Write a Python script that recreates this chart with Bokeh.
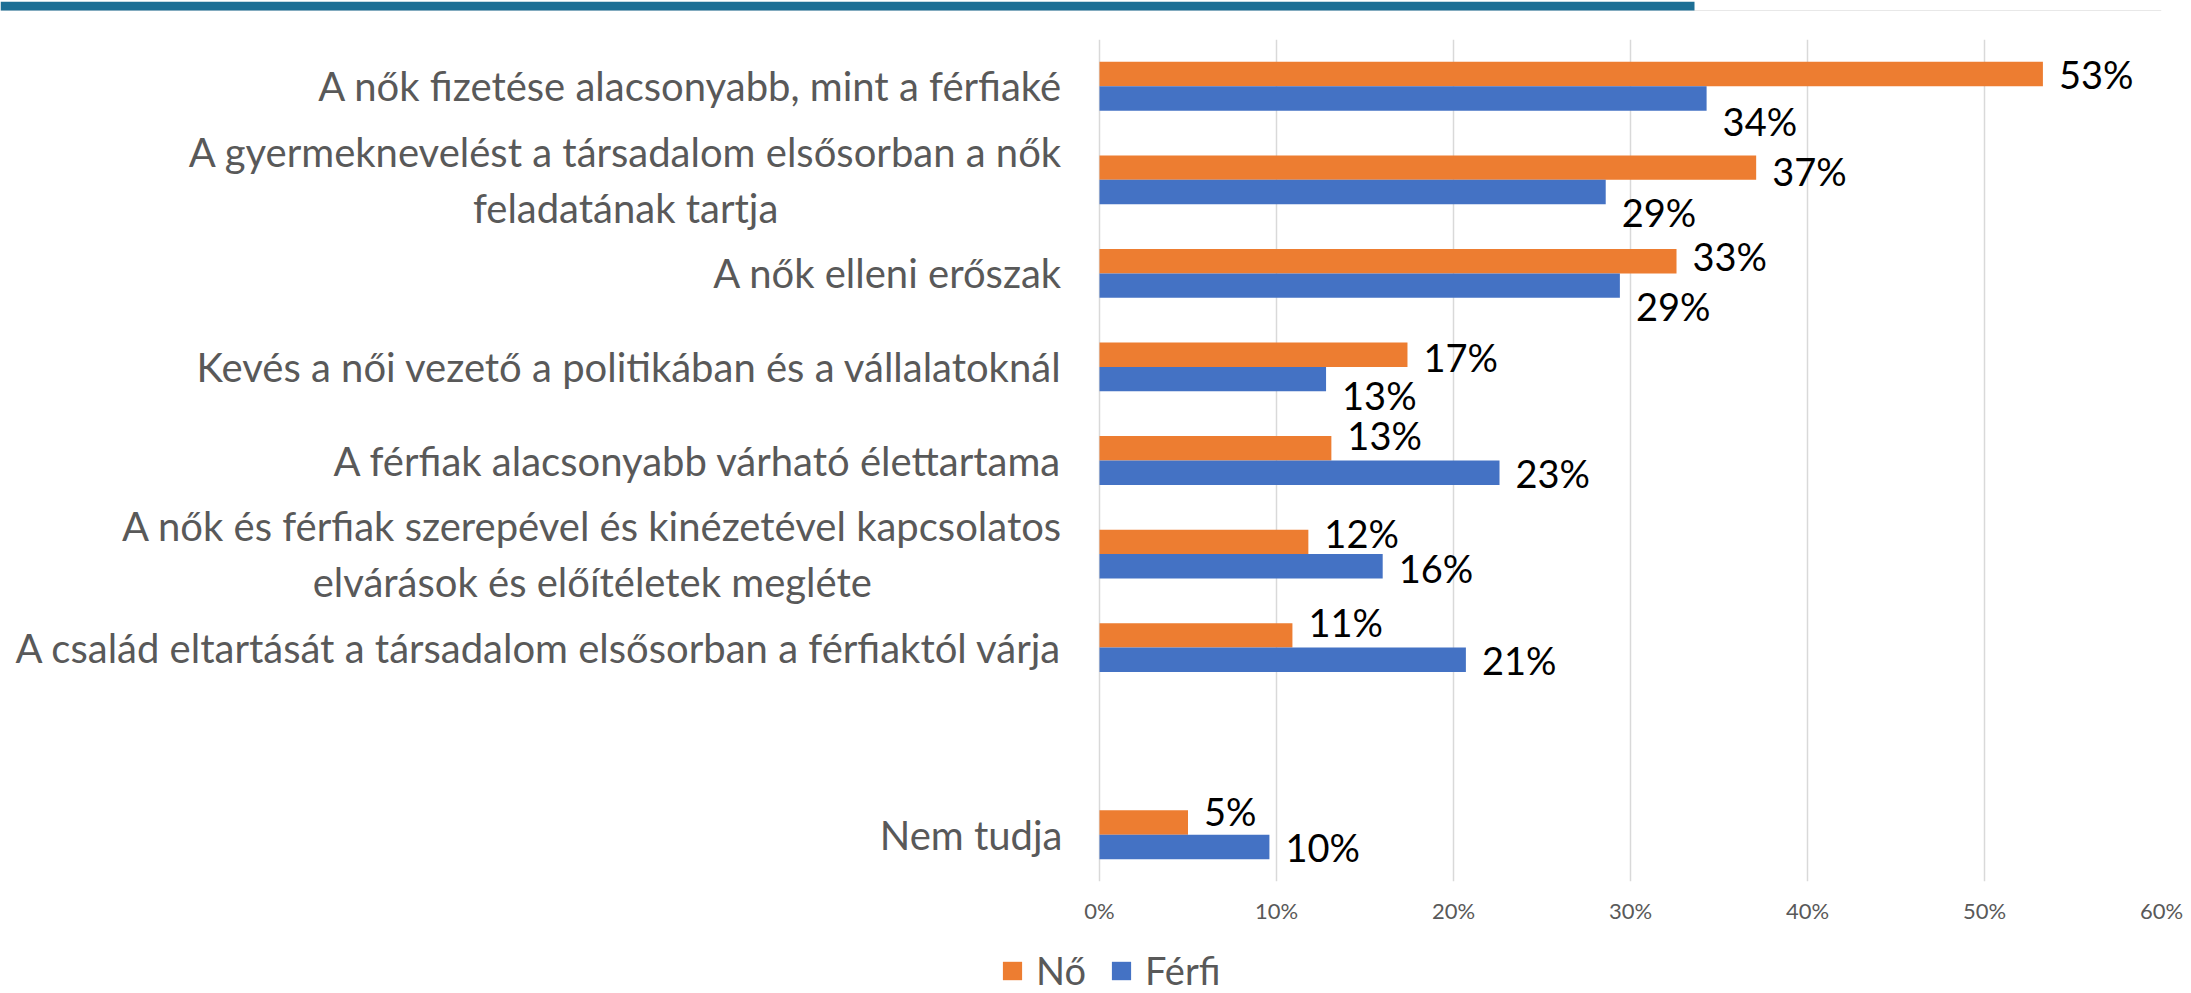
from bokeh.plotting import figure
from bokeh.layouts import column
from bokeh.models import (Range1d, FactorRange, FixedTicker, PrintfTickFormatter,
                          ColumnDataSource, Legend, LegendItem, BoxAnnotation)
from bokeh.transform import dodge
from bokeh.core.properties import value
from bokeh.embed import file_html
from bokeh.resources import INLINE

# ---------------- data ----------------
categories = [
    "A nők fizetése alacsonyabb, mint a férfiaké",
    "A gyermeknevelést a társadalom elsősorban a nők\nfeladatának tartja",
    "A nők elleni erőszak",
    "Kevés a női vezető a politikában és a vállalatoknál",
    "A férfiak alacsonyabb várható élettartama",
    "A nők és férfiak szerepével és kinézetével kapcsolatos\nelvárások és előítéletek megléte",
    "A család eltartását a társadalom elsősorban a férfiaktól várja",
    "Nem tudja",
]
spacer = " "
series = ["Nő", "Férfi"]
no_values = [53.3, 37.1, 32.6, 17.4, 13.1, 11.8, 10.9, 5.0]
ferfi_values = [34.3, 28.6, 29.4, 12.8, 22.6, 16.0, 20.7, 9.6]
tick_values = [0, 10, 20, 30, 40, 50, 60]

# ---------------- style ----------------
ORANGE = "#ED7D31"
BLUE = "#4472C4"
GRAY_TXT = "#595959"
GRID = "#D9D9D9"
BAND = "#1D6F95"
BAND_LINE = "#D2D2D2"
FONT = "Lato"
# manual label nudges (screen px, + = down), as in the original
no_label_shift = [0, 3, -5, 2, -13, -9, -13, -12]
ferfi_label_shift = [23, 20, 20, 16, 0, 2, 0, 0]

W = 2191
FRAME_RIGHT = 2161
H_BAND, H_MAIN, H_LEG = 11, 919, 63

# ---------------- decorative header band ----------------
band = figure(width=W, height=H_BAND, x_range=Range1d(0, FRAME_RIGHT), y_range=Range1d(0, H_BAND),
              output_backend="svg", toolbar_location=None,
              x_axis_location=None, y_axis_location=None,
              min_border_left=0, min_border_top=0, min_border_bottom=0,
              min_border_right=W - FRAME_RIGHT)
band.grid.visible = False
band.outline_line_color = None
band.background_fill_color = "white"
band.border_fill_color = "white"
band.add_layout(BoxAnnotation(left=0, right=FRAME_RIGHT, bottom=0, top=2,
                              fill_color=BAND_LINE, fill_alpha=1, line_color=None))
band.add_layout(BoxAnnotation(left=0, right=1694, bottom=2, top=H_BAND,
                              fill_color=BAND, fill_alpha=1, line_color=None))

# ---------------- main chart ----------------
order = categories[:7] + [spacer] + categories[7:]
factors = order[::-1]

p = figure(width=W, height=H_MAIN,
           x_range=Range1d(-62.09, 60),
           y_range=FactorRange(factors=factors, range_padding=0),
           output_backend="svg", toolbar_location=None,
           y_axis_location=None,
           min_border_left=0, min_border_right=W - FRAME_RIGHT,
           min_border_top=28, min_border_bottom=49)
p.outline_line_color = None

src = ColumnDataSource(dict(
    cat=categories,
    no=no_values,
    ferfi=ferfi_values,
    no_lbl=[f"{int(v + 0.5)}%" for v in no_values],
    ferfi_lbl=[f"{int(v + 0.5)}%" for v in ferfi_values],
    no_dy=no_label_shift,
    ferfi_dy=ferfi_label_shift,
    zero=[0] * len(categories),
))

bh = 0.261
p.hbar(y=dodge("cat", bh / 2, range=p.y_range), left=0, right="no", height=bh,
       source=src, color=ORANGE, line_color=None)
p.hbar(y=dodge("cat", -bh / 2, range=p.y_range), left=0, right="ferfi", height=bh,
       source=src, color=BLUE, line_color=None)

# data labels
p.text(x="no", y=dodge("cat", bh / 2, range=p.y_range), text="no_lbl", source=src,
       x_offset=16, y_offset="no_dy", text_align="left", text_baseline="middle",
       text_font=value(FONT), text_font_size="38px", text_color="black")
p.text(x="ferfi", y=dodge("cat", -bh / 2, range=p.y_range), text="ferfi_lbl", source=src,
       x_offset=16, y_offset="ferfi_dy", text_align="left", text_baseline="middle",
       text_font=value(FONT), text_font_size="38px", text_color="black")

# category labels
p.text(x="zero", y="cat", text="cat", source=src, x_offset=-37,
       anchor="center_right", text_align="center", text_baseline="middle",
       text_line_height=1.16,
       text_font=value(FONT), text_font_size="40px", text_color=GRAY_TXT)

# axes / grid
p.ygrid.visible = False
ticker = FixedTicker(ticks=tick_values)
p.xaxis.ticker = ticker
p.xgrid.ticker = ticker
p.xgrid.grid_line_color = GRID
p.xgrid.grid_line_width = 1.5
p.xaxis.formatter = PrintfTickFormatter(format="%d%%")
p.xaxis.axis_line_color = None
p.xaxis.major_tick_line_color = None
p.xaxis.minor_tick_line_color = None
p.xaxis.major_tick_out = 0
p.xaxis.major_tick_in = 0
p.xaxis.major_label_standoff = 15
p.xaxis.major_label_text_font = FONT
p.xaxis.major_label_text_font_size = "22px"
p.xaxis.major_label_text_color = GRAY_TXT

# ---------------- legend strip ----------------
leg = figure(width=W, height=H_LEG, x_range=Range1d(0, 1), y_range=Range1d(0, 1),
             output_backend="svg", toolbar_location=None,
             x_axis_location=None, y_axis_location=None, min_border=0)
leg.grid.visible = False
leg.outline_line_color = None
# zero-width proxy bars, used only for the legend swatches
proxy = ColumnDataSource(dict(y=[0.5], left=[0], right=[0]))
r_no = leg.hbar(y="y", left="left", right="right", height=0.5, source=proxy,
                color=ORANGE, line_color=None)
r_fe = leg.hbar(y="y", left="left", right="right", height=0.5, source=proxy,
                color=BLUE, line_color=None)
lg = Legend(items=[LegendItem(label=series[0], renderers=[r_no]),
                   LegendItem(label=series[1], renderers=[r_fe])],
            orientation="horizontal", location=(1000, 0),
            border_line_color=None, background_fill_alpha=0,
            padding=0, margin=0, spacing=23,
            glyph_width=24, glyph_height=23, label_standoff=12,
            label_text_font=FONT, label_text_font_size="38px",
            label_text_color=GRAY_TXT)
leg.add_layout(lg, "center")

layout = column(band, p, leg, spacing=0)
open("out.html", "w").write(file_html(layout, INLINE))
